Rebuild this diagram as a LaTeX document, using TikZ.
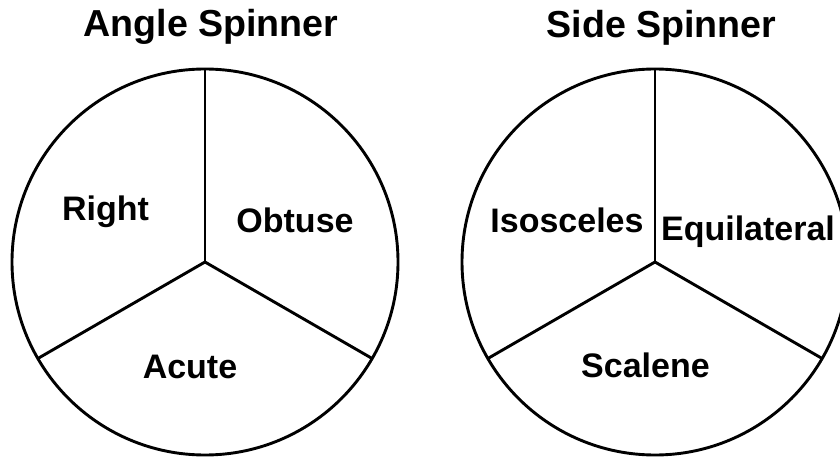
\documentclass[tikz,border=0pt]{standalone}
\usepackage{fontspec}
\setmainfont{Liberation Sans}
\usetikzlibrary{positioning}
\tikzset{
	spinner/.style={line width=2.9pt},
	heading/.style={font=\bfseries\fontsize{37.6}{40}\selectfont, inner sep=0pt, anchor=base},
	sector/.style={font=\bfseries\fontsize{34}{36}\selectfont, inner sep=0pt, anchor=base}
}
\begin{document}
\begin{tikzpicture}[x=1pt, y=-1pt]
	\useasboundingbox (0,0) rectangle (840,457);
	
	% angle spinner
	\coordinate (angc) at (205,262);
	\draw[spinner] (angc) circle (193pt);
	\draw[spinner] (angc) -- +(90:193pt);
	\draw[spinner] (angc) -- +(210:193pt);
	\draw[spinner] (angc) -- +(330:193pt);
	\node[heading] (angtitle) at (211,37) {Angle Spinner};
	\node[sector] (right) at (105.5,220) {Right};
	\node[sector] (obtuse) at (295,232) {Obtuse};
	\node[sector] (acute) at (190,378) {Acute};
	
	% side spinner
	\coordinate (sidec) at (655,262);
	\draw[spinner] (sidec) circle (193pt);
	\draw[spinner] (sidec) -- +(90:193pt);
	\draw[spinner] (sidec) -- +(210:193pt);
	\draw[spinner] (sidec) -- +(330:193pt);
	\node[heading] (sidetitle) at (661.5,38) {Side Spinner};
	\node[sector] (isosceles) at (567,232) {Isosceles};
	\node[sector] (equilateral) at (748,240) {Equilateral};
	\node[sector] (scalene) at (645.5,377) {Scalene};
\end{tikzpicture}
\end{document}
